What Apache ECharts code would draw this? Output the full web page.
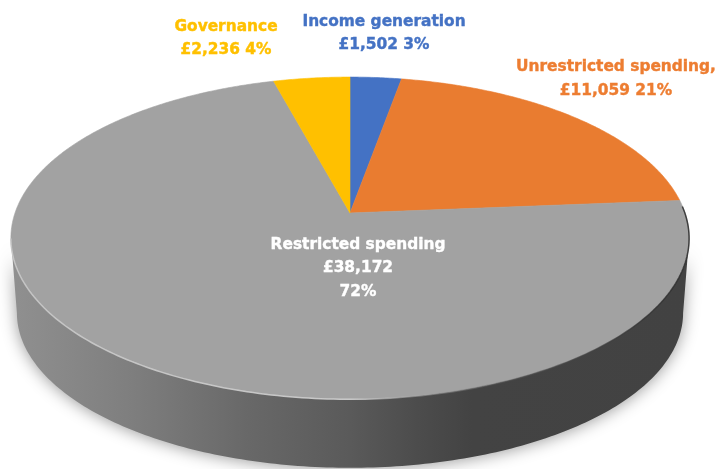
<!DOCTYPE html>
<html>
<head>
<meta charset="utf-8">
<title>Spending breakdown</title>
<script src="https://cdn.jsdelivr.net/npm/echarts@6/dist/echarts.min.js"></script>
<style>
  html, body { margin: 0; padding: 0; background: #fff; }
  #main { width: 718px; height: 469px; }
</style>
</head>
<body>
<div id="main"></div>
<script>
// clockwise from 12 o'clock
const categories = ['Income generation', 'Unrestricted spending', 'Restricted spending', 'Governance'];
const amounts = [1502, 11059, 38172, 2236];
const colors = ['#4472c4', '#e97c30', '#a2a2a2', '#ffc000'];
const labelColors = ['#4472c4', '#ed7d31', '#ffffff', '#ffc000'];
const labelLines = [
  ['Income generation', '£1,502 3%'],
  ['Unrestricted spending,', '£11,059 21%'],
  ['Restricted spending', '£38,172', '72%'],
  ['Governance', '£2,236 4%']
];
const labelAt = [[384, 33.5], [616, 79], [358, 268], [226, 38.5]];

// disc seen in perspective: unit circle -> screen, centre lands on the apex
const apexX = 350, apexY = 213;
const scaleX = 335, scaleY = 157, tilt = 0.155;
const wallShrink = 6, wallDrop = 75;

const rimRx = scaleX / Math.sqrt(1 - tilt * tilt);
const rimRy = scaleY / (1 - tilt * tilt);
const rimCy = apexY + scaleY * tilt / (1 - tilt * tilt);

function project(angle) {
  const u = Math.sin(angle), v = Math.cos(angle);
  const w = 1 + tilt * v;
  return [apexX + scaleX * u / w, apexY - scaleY * v / w];
}

function ellipseArc(cy, rx, ry, from, to) {
  const pts = [];
  const n = 180;
  for (let i = 0; i <= n; i++) {
    const t = from + (to - from) * i / n;
    pts.push([apexX + rx * Math.cos(t), cy + ry * Math.sin(t)]);
  }
  return pts;
}

const total = amounts.reduce((a, b) => a + b, 0);
const starts = [];
amounts.reduce((sum, v, i) => { starts[i] = sum; return sum + v; }, 0);

function renderWall() {
  const top = ellipseArc(rimCy, rimRx, rimRy, Math.PI, 0);
  const bottom = ellipseArc(rimCy + wallDrop, rimRx - wallShrink, rimRy - wallShrink, 0, Math.PI);
  const wallFill = new echarts.graphic.LinearGradient(0, 0, 1, 0, [
    { offset: 0, color: '#909090' },
    { offset: 0.18, color: '#7e7e7e' },
    { offset: 0.35, color: '#686868' },
    { offset: 0.5, color: '#5a5a5a' },
    { offset: 0.6, color: '#4c4c4c' },
    { offset: 0.68, color: '#434343' },
    { offset: 1, color: '#424242' }
  ]);
  return {
    type: 'polygon',
    shape: { points: top.concat(bottom) },
    style: {
      fill: wallFill,
      shadowBlur: 16,
      shadowColor: 'rgba(0,0,0,0.4)',
      shadowOffsetY: 1
    }
  };
}

function renderRim() {
  const rimStroke = new echarts.graphic.LinearGradient(0, 0, 1, 0, [
    { offset: 0, color: 'rgba(200,200,200,0.9)' },
    { offset: 0.5, color: 'rgba(205,205,205,0.95)' },
    { offset: 0.6, color: 'rgba(170,170,170,0.5)' },
    { offset: 0.72, color: 'rgba(90,90,90,0.5)' },
    { offset: 1, color: 'rgba(40,40,40,0.85)' }
  ]);
  return {
    type: 'polyline',
    shape: { points: ellipseArc(rimCy + 0.5, rimRx, rimRy, Math.PI, -0.2) },
    style: { fill: null, stroke: rimStroke, lineWidth: 1.5 }
  };
}

function renderSlice(params, api) {
  const i = params.dataIndex;
  const a0 = api.value(1) / total * Math.PI * 2;
  const a1 = (api.value(1) + api.value(0)) / total * Math.PI * 2;
  const pts = [[apexX, apexY]];
  const n = Math.max(4, Math.ceil((a1 - a0) * 120));
  for (let j = 0; j <= n; j++) {
    pts.push(project(a0 + (a1 - a0) * j / n));
  }
  return {
    type: 'polygon',
    shape: { points: pts },
    style: { fill: colors[i], stroke: colors[i], lineWidth: 0.6 }
  };
}

function renderLabel(params) {
  const i = params.dataIndex;
  return {
    type: 'text',
    style: {
      text: labelLines[i].join('\n'),
      x: labelAt[i][0],
      y: labelAt[i][1],
      align: 'center',
      verticalAlign: 'middle',
      fill: labelColors[i],
      font: 'bold 15.4px "DejaVu Sans", sans-serif',
      lineHeight: 23.5,
      stroke: labelColors[i],
      lineWidth: 0.4,
      shadowBlur: 2,
      shadowColor: labelColors[i]
    }
  };
}

const myChart = echarts.init(document.getElementById('main'));
const sliceData = amounts.map((v, i) => ({ name: categories[i], value: [v, starts[i]] }));

myChart.setOption({
  animation: false,
  backgroundColor: '#ffffff',
  series: [
    { type: 'custom', coordinateSystem: 'none', silent: true, z: 1, renderItem: renderWall, data: [total] },
    { type: 'custom', coordinateSystem: 'none', silent: true, z: 2, renderItem: renderSlice, data: sliceData },
    { type: 'custom', coordinateSystem: 'none', silent: true, z: 3, renderItem: renderRim, data: [total] },
    { type: 'custom', coordinateSystem: 'none', silent: true, z: 4, renderItem: renderLabel, data: sliceData }
  ]
});
</script>
</body>
</html>
